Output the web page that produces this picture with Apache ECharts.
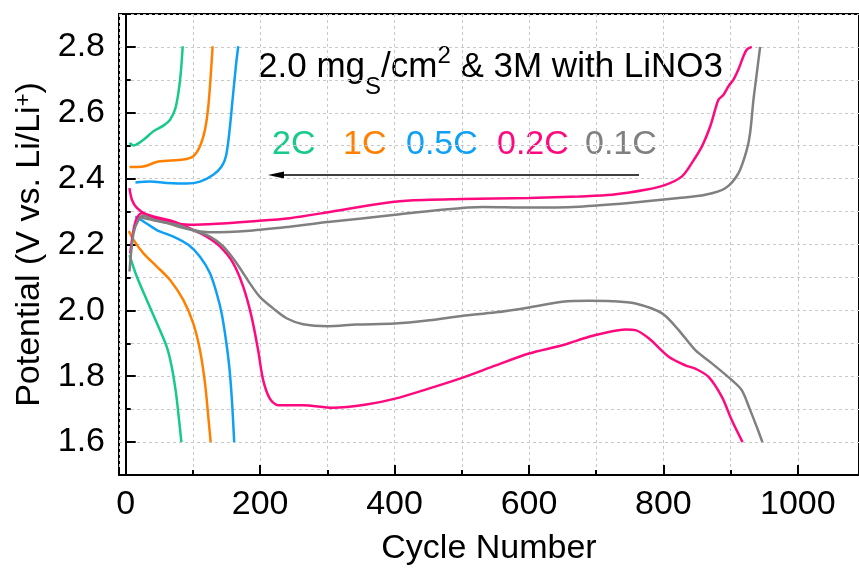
<!DOCTYPE html>
<html>
<head>
<meta charset="utf-8">
<script src="https://cdn.jsdelivr.net/npm/echarts@6/dist/echarts.min.js"></script>
<style>
  html, body { margin: 0; padding: 0; background: #fff; }
  #chart { width: 859px; height: 572px; }
</style>
</head>
<body>
<div id="chart"></div>
<script type="text/javascript">
// rate labels and colours
var rateNames = ["2C", "1C", "0.5C", "0.2C", "0.1C"];
var rateColors = ["#17c98b", "#ff8000", "#0fa0f5", "#ff0a7e", "#808080"];

// [cycle, potential]
var c2Charge = [[5.7, 2.508], [11.6, 2.501], [26.4, 2.518], [41.3, 2.544], [56.1, 2.561], [66, 2.579], [73.4, 2.610], [78.4, 2.661], [81.9, 2.721], [84.8, 2.802]];
var c2Discharge = [[5.6, 2.168], [16.6, 2.102], [31.5, 2.031], [48.7, 1.950], [61.1, 1.889], [68.5, 1.828], [74.9, 1.747], [79.4, 1.666], [82.8, 1.600]];

var c1Charge = [[5.6, 2.435], [26.4, 2.437], [48.7, 2.452], [85.8, 2.458], [100.6, 2.468], [110.5, 2.498], [118, 2.549], [122.9, 2.620], [126.4, 2.711], [129.3, 2.802]];
var c1Discharge = [[4.7, 2.241], [11.6, 2.214], [26.4, 2.173], [46.3, 2.133], [66, 2.092], [85.8, 2.031], [100.6, 1.960], [110.5, 1.879], [118, 1.778], [122.9, 1.676], [126.4, 1.600]];

var c05Charge = [[14.5, 2.388], [36.4, 2.391], [61.1, 2.387], [90.8, 2.385], [110.5, 2.391], [130.3, 2.412], [142.7, 2.437], [149.1, 2.468], [154.1, 2.539], [159, 2.640], [163.9, 2.742], [167.4, 2.802]];
var c05Discharge = [[14.1, 2.285], [26.4, 2.270], [46.3, 2.244], [70.9, 2.224], [93.2, 2.199], [110.5, 2.163], [125.4, 2.113], [135.3, 2.052], [142.7, 1.991], [149.1, 1.910], [154.1, 1.828], [158, 1.727], [161.4, 1.600]];

var c02Charge = [[5.6, 2.371], [9.2, 2.336], [16.6, 2.311], [31.5, 2.290], [61.1, 2.270], [95.7, 2.260], [135.3, 2.263], [184.7, 2.270], [244.1, 2.280], [300.9, 2.298], [367.7, 2.321], [417.2, 2.333], [500.3, 2.338], [600.1, 2.341], [674.3, 2.346], [723.7, 2.351], [773.3, 2.366], [803, 2.381], [827.6, 2.407], [842.4, 2.448], [857.3, 2.498], [869.7, 2.559], [877.1, 2.610], [882, 2.640], [889.5, 2.655], [896.9, 2.681], [904.3, 2.701], [911.7, 2.732], [919.1, 2.772], [924.1, 2.792], [931.5, 2.800]];
var c02Discharge = [[6.7, 2.173], [11.6, 2.244], [16.6, 2.280], [24, 2.295], [41.2, 2.285], [70.9, 2.270], [100.6, 2.244], [120.5, 2.224], [140.2, 2.194], [160, 2.143], [174.8, 2.072], [187.2, 1.981], [197, 1.879], [204.5, 1.788], [214.4, 1.732], [226.7, 1.712], [244, 1.712], [263.8, 1.712], [308.3, 1.704], [357.9, 1.714], [400.9, 1.732], [451.8, 1.763], [500.3, 1.795], [550.7, 1.833], [600.1, 1.869], [649.6, 1.894], [689.2, 1.920], [708.9, 1.930], [743.6, 1.942], [758.4, 1.940], [778.2, 1.915], [807.9, 1.859], [832.6, 1.833], [847.5, 1.823], [867.2, 1.798], [887, 1.737], [901.8, 1.666], [917.7, 1.600]];

var c01Charge = [[20, 2.285], [26.4, 2.280], [61.1, 2.265], [85.8, 2.250], [125.4, 2.237], [184.7, 2.242], [244.1, 2.254], [300.9, 2.268], [400.9, 2.290], [466.6, 2.305], [530.9, 2.314], [600.1, 2.312], [674.3, 2.315], [748.5, 2.326], [822.7, 2.341], [862.3, 2.351], [892, 2.371], [911.7, 2.417], [924.1, 2.488], [929, 2.539], [934, 2.640], [939, 2.721], [943.9, 2.800]];
var c01Discharge = [[5.6, 2.118], [11.6, 2.234], [19, 2.275], [26.4, 2.287], [41.2, 2.275], [76, 2.260], [100.6, 2.242], [125.4, 2.224], [145.1, 2.194], [165, 2.143], [184.7, 2.082], [199.6, 2.041], [219.3, 2.006], [239.2, 1.976], [263.8, 1.958], [300.9, 1.952], [343, 1.957], [400.9, 1.960], [451.8, 1.970], [500.3, 1.983], [550.7, 1.994], [600.1, 2.009], [649.6, 2.026], [689.2, 2.029], [723.7, 2.028], [758.4, 2.021], [798, 1.991], [822.7, 1.940], [847.5, 1.879], [872.1, 1.839], [901.8, 1.788], [916.7, 1.757], [929.1, 1.697], [938.9, 1.646], [947.3, 1.600]];

var curves = [
  [c2Charge, c2Discharge],
  [c1Charge, c1Discharge],
  [c05Charge, c05Discharge],
  [c02Charge, c02Discharge],
  [c01Charge, c01Discharge]
];

var FONT = "'Liberation Sans', Arial, sans-serif";

var chart = echarts.init(document.getElementById("chart"), null, { renderer: "canvas" });

var series = [];
curves.forEach(function (pair, i) {
  pair.forEach(function (d) {
    series.push({
      name: rateNames[i],
      type: "line",
      xAxisIndex: 0,
      yAxisIndex: 0,
      data: d,
      smooth: 0.3,
      showSymbol: false,
      lineStyle: { color: rateColors[i], width: 2.5 },
      animation: false
    });
  });
});

var dashed = { show: true, lineStyle: { color: "#c8c8c8", type: [3, 3], width: 1 } };

// labels for the rate annotation
var rateX = [272, 343, 406, 497, 585];
var graphics = rateNames.map(function (n, i) {
  return {
    type: "text",
    left: rateX[i],
    top: 128,
    style: { text: n, fill: rateColors[i], font: "34px " + FONT }
  };
});
graphics.push({
  type: "text",
  left: 258,
  top: 44,
  style: {
    text: "2.0 mg{sub|S}/cm{sup|2} & 3M with LiNO3",
    fill: "#000",
    font: "35px " + FONT,
    rich: {
      sub: { fontSize: 24, fontFamily: FONT, fill: "#000", verticalAlign: "bottom", lineHeight: 24, padding: [0, 0, -14, 0] },
      sup: { fontSize: 24, fontFamily: FONT, fill: "#000", verticalAlign: "top", lineHeight: 24, padding: [-6, 0, 0, 0] }
    }
  }
});
graphics.push({
  type: "line",
  shape: { x1: 639, y1: 175, x2: 280, y2: 175 },
  style: { stroke: "#000", lineWidth: 1.5 }
});
graphics.push({
  type: "polygon",
  shape: { points: [[268, 175], [284, 171.5], [284, 178.5]] },
  style: { fill: "#000" }
});

chart.setOption({
  backgroundColor: "#fff",
  animation: false,
  grid: {
    left: 119, right: -2, top: 14, bottom: 97,
    show: true, borderColor: "#000", borderWidth: 2, backgroundColor: "transparent"
  },
  xAxis: [
    {
      type: "value", position: "bottom", min: -10, max: 1091, splitNumber: 11,
      axisLine: { show: true, lineStyle: { color: "#000", width: 2 } },
      axisTick: { show: true, inside: true, length: 5, lineStyle: { color: "#000", width: 2 } },
      axisLabel: { show: false },
      splitLine: dashed,
      name: "Cycle Number", nameLocation: "middle", nameGap: 57,
      nameTextStyle: { fontSize: 34, fontFamily: FONT, color: "#000" }
    },
    {
      type: "value", position: "bottom", min: -10, max: 1091, splitNumber: 5,
      axisLine: { show: false },
      axisTick: { show: true, inside: true, length: 10, lineStyle: { color: "#000", width: 2 } },
      axisLabel: {
        show: true, margin: 13, fontSize: 34, fontFamily: FONT, color: "#000",
        showMinLabel: false, showMaxLabel: false,
        formatter: function (v) { return String(Math.round(v)); }
      },
      splitLine: { show: false }
    }
  ],
  yAxis: [
    {
      type: "value", position: "left", min: 1.5, max: 2.9, interval: 0.1,
      axisLine: { show: true, lineStyle: { color: "#000", width: 2 } },
      axisTick: { show: true, inside: true, length: 5, lineStyle: { color: "#000", width: 2 } },
      axisLabel: { show: false },
      splitLine: dashed,
      name: "Potential (V vs. Li/Li{sup|+})", nameLocation: "middle", nameGap: 72, nameRotate: 90,
      nameTextStyle: {
        fontSize: 34, fontFamily: FONT, color: "#000",
        rich: { sup: { fontSize: 22, fontFamily: FONT, color: "#000", verticalAlign: "top", padding: [0, 0, 10, 0] } }
      }
    },
    {
      type: "value", position: "left", min: 1.5, max: 2.9, splitNumber: 7,
      axisLine: { show: false },
      axisTick: { show: true, inside: true, length: 10, lineStyle: { color: "#000", width: 2 } },
      axisLabel: {
        show: true, margin: 14, fontSize: 34, fontFamily: FONT, color: "#000",
        showMinLabel: false, showMaxLabel: false,
        formatter: function (v) { return v.toFixed(1); }
      },
      splitLine: { show: false }
    }
  ],
  series: series,
  graphic: graphics
});
</script>
</body>
</html>
